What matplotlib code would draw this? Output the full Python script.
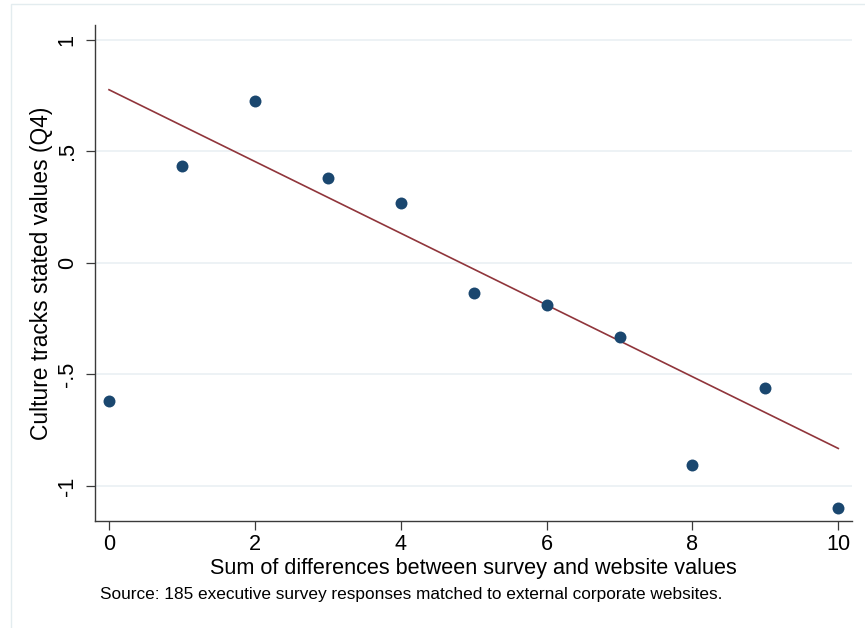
import matplotlib
matplotlib.use("Agg")
import matplotlib.pyplot as plt
from matplotlib.patches import Rectangle
import numpy as np

plt.rcParams['font.family'] = ['Liberation Sans', 'DejaVu Sans']

# Data (binned means)
x_vals = [0, 1, 2, 3, 4, 5, 6, 7, 8, 9, 10]
y_vals = [-0.620, 0.432, 0.726, 0.378, 0.266, -0.137, -0.190, -0.332, -0.908, -0.563, -1.098]
# Linear fit
fit_intercept = 0.775
fit_slope = -0.1607
fit_x = [0, 10]

x_ticks = [0, 2, 4, 6, 8, 10]
y_ticks = [-1, -0.5, 0, 0.5, 1]
y_tick_labels = ['-1', '-.5', '0', '.5', '1']

W, H = 865, 628
fig = plt.figure(figsize=(W / 100, H / 100), dpi=100)
fig.patch.set_facecolor('white')

# outer light frame
fig.patches.append(Rectangle((11 / W, -0.1), 1.2, 1.1 - 4.5 / H, transform=fig.transFigure,
                             fill=False, edgecolor='#e3ecef', linewidth=1.0))

left, right, top, bottom = 95, 852, 25, 521
ax = fig.add_axes([left / W, 1 - bottom / H, (right - left) / W, (bottom - top) / H])

ax.set_xlim(-0.192, 10.188)
ax.set_ylim(-1.157, 1.065)

for yt in y_ticks:
    ax.axhline(yt, color='#e8eff2', linewidth=1.1, zorder=0)

fx = np.array(fit_x, dtype=float)
ax.plot(fx, fit_intercept + fit_slope * fx, color='#90353b', linewidth=1.2, zorder=2)
ax.plot(x_vals, y_vals, 'o', color='#1a476f', markersize=8.6, markeredgewidth=0, zorder=3)

ax.set_xticks(x_ticks)
ax.set_xticklabels([str(t) for t in x_ticks])
ax.set_yticks(y_ticks)
ax.set_yticklabels(y_tick_labels, rotation=90, va='center')

for s in ['top', 'right']:
    ax.spines[s].set_visible(False)
for s in ['left', 'bottom']:
    ax.spines[s].set_color('#3a3a3a')
    ax.spines[s].set_linewidth(1.0)

ax.tick_params(axis='both', direction='out', length=6.5, width=0.9, color='#3a3a3a',
               labelsize=15.6, labelcolor='black')
ax.tick_params(axis='y', pad=6)
ax.tick_params(axis='x', pad=3)

ax.set_xlabel('Sum of differences between survey and website values', fontsize=15.6, labelpad=2)
ax.set_ylabel('Culture tracks stated values (Q4)', fontsize=16.4, labelpad=2.5)

fig.text(100 / W, 1 - 594 / H, 'Source: 185 executive survey responses matched to external corporate websites.',
         fontsize=12.4, ha='left', va='center')

fig.savefig('out.png', dpi=100, facecolor='white')
